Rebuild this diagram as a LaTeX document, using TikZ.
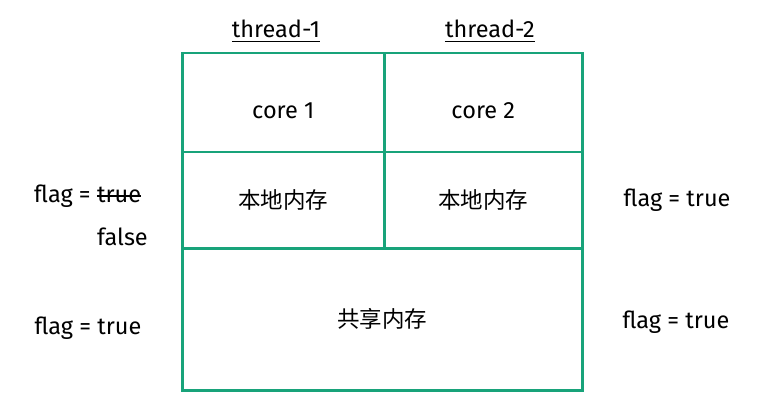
\documentclass[tikz,border=0pt]{standalone}
\usepackage{fontspec}
\setmainfont{Fira Sans}
\newfontfamily\cjk{Noto Sans CJK SC}
\usetikzlibrary{positioning}
\definecolor{cellgreen}{RGB}{24,163,122}

\begin{document}
\begin{tikzpicture}[x=1pt,y=-1pt,font=\fontsize{23.5}{28}\selectfont,
  cell/.style={draw=cellgreen,line width=2.5pt,inner sep=0pt,anchor=north west},
  cjktxt/.style={font=\cjk\fontsize{22.5}{27}\selectfont},
  txt/.style={inner sep=0pt},
  rule/.style={line width=1.5pt}]

   \useasboundingbox (0,0) rectangle (760,406);

   % memory grid
   \node[cell,minimum width=202pt,minimum height=99pt,text height=32pt,text depth=0pt] (core1) at (181,52) {core 1};
   \node[cell,minimum width=198pt,minimum height=99pt,text height=32pt,text depth=0pt] (core2) at (383,52) {core 2};
   \node[cell,cjktxt,minimum width=202pt,minimum height=96pt] (mem1) at (181,151) {本地内存};
   \node[cell,cjktxt,minimum width=198pt,minimum height=96pt] (mem2) at (383,151) {本地内存};
   \node[cell,cjktxt,minimum width=400pt,minimum height=142pt] (shared) at (181,247) {共享内存};

   % threads
   \node[txt] (thread1) at (276,29) {thread-1};
   \node[txt] (thread2) at (490,29) {thread-2};
   \draw[rule] ([yshift=-4pt]thread1.base west) -- ([yshift=-4pt]thread1.base east);
   \draw[rule] ([yshift=-4pt]thread2.base west) -- ([yshift=-4pt]thread2.base east);

   % flags
   \node[txt,anchor=base west] (lflag1) at (34,203) {flag =};
   \node[txt,anchor=base west] (ltrue) at ([xshift=6pt]lflag1.base east) {true};
   \draw[rule] ([yshift=7pt]ltrue.base west) -- ([yshift=7pt]ltrue.base east);
   \node[txt,anchor=west] (lfalse) at (97,237) {false};
   \node[txt] (lflag2) at (88,328) {flag = true};
   \node[txt] (rflag1) [right=40pt of mem2] {flag = true};
   \node[txt] (rflag2) at (676,322) {flag = true};

\end{tikzpicture}
\end{document}
